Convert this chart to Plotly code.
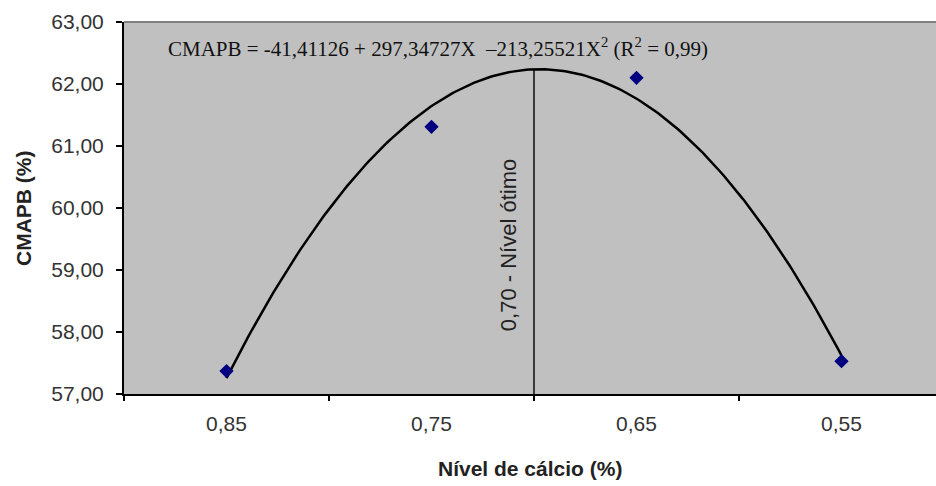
import numpy as np
import plotly.graph_objects as go

# Observed calcium levels (%) and CMAPB (%)
calcium_levels = [0.85, 0.75, 0.65, 0.55]
cmapb_values = [57.37, 61.31, 62.10, 57.53]

# Quadratic regression coefficients: CMAPB = b0 + b1*X + b2*X^2
b0, b1, b2 = -41.41126, 297.34727, -213.25521
optimum_level = 0.70

x_fit = np.linspace(max(calcium_levels), min(calcium_levels), 200)
y_fit = b0 + b1 * x_fit + b2 * x_fit ** 2
y_opt = b0 + b1 * optimum_level + b2 * optimum_level ** 2

sans = "Arial, Liberation Sans, sans-serif"

fig = go.Figure()

fig.add_trace(go.Scatter(
    x=x_fit, y=y_fit, mode="lines",
    line=dict(color="black", width=2.5),
    hoverinfo="skip", showlegend=False,
))

fig.add_trace(go.Scatter(
    x=calcium_levels, y=cmapb_values, mode="markers",
    marker=dict(symbol="diamond", size=11, color="#000080"),
    showlegend=False,
))

# Vertical marker at the optimum level
fig.add_trace(go.Scatter(
    x=[optimum_level, optimum_level], y=[57, y_opt], mode="lines",
    line=dict(color="black", width=1.4),
    hoverinfo="skip", showlegend=False,
))

fig.add_annotation(
    x=optimum_level, y=59.40, xref="x", yref="y",
    text="0,70 - Nível ótimo", textangle=-90, showarrow=False,
    xanchor="center", yanchor="middle", xshift=-26,
    font=dict(family=sans, size=22, color="#222222"),
)

fig.add_annotation(
    x=0.5, y=1, xref="paper", yref="paper",
    xanchor="center", yanchor="middle", yshift=-25, xshift=-92,
    text="CMAPB = -41,41126 + 297,34727X  \u2013213,25521X<sup>2</sup> (R<sup>2</sup> = 0,99)",
    showarrow=False,
    font=dict(family="Liberation Serif, Times New Roman, serif", size=21, color="#111111"),
)

fig.add_annotation(
    x=0, y=0.5, xref="paper", yref="paper", xshift=-101,
    text="<b>CMAPB (%)</b>", textangle=-90, showarrow=False,
    xanchor="center", yanchor="middle",
    font=dict(family=sans, size=21, color="#222222"),
)

fig.add_annotation(
    x=0.5, y=0, xref="paper", yref="paper", yshift=-74,
    text="<b>Nível de cálcio (%)</b>", showarrow=False,
    xanchor="center", yanchor="middle",
    font=dict(family=sans, size=21, color="#222222"),
)

tick_font = dict(family=sans, size=21, color="#333333")

fig.update_layout(
    width=936, height=486,
    margin=dict(l=124, r=0, t=22, b=92),
    paper_bgcolor="white", plot_bgcolor="#c0c0c0",
    separators=",.",
    xaxis=dict(
        range=[0.90, 0.5039],
        tickvals=calcium_levels,
        ticktext=["0,85", "0,75", "0,65", "0,55"],
        ticks="", showgrid=False, zeroline=False,
        showline=True, linecolor="black", linewidth=2,
        tickfont=tick_font, ticklabelstandoff=10,
        minor=dict(tickvals=[0.9, 0.8, 0.7, 0.6, 0.5], ticks="outside",
                   ticklen=5, tickcolor="black", tickwidth=1.5, showgrid=False),
    ),
    yaxis=dict(
        range=[57, 63], dtick=1, tickformat=".2f",
        ticks="outside", ticklen=6, tickcolor="black", tickwidth=1.5,
        showgrid=False, zeroline=False,
        showline=True, linecolor="black", linewidth=2,
        tickfont=tick_font, ticklabelstandoff=8,
    ),
    shapes=[dict(type="line", xref="paper", yref="paper", x0=0, x1=1, y0=1, y1=1,
                 line=dict(color="#808080", width=2))],
)

fig.write_html("out.html")
